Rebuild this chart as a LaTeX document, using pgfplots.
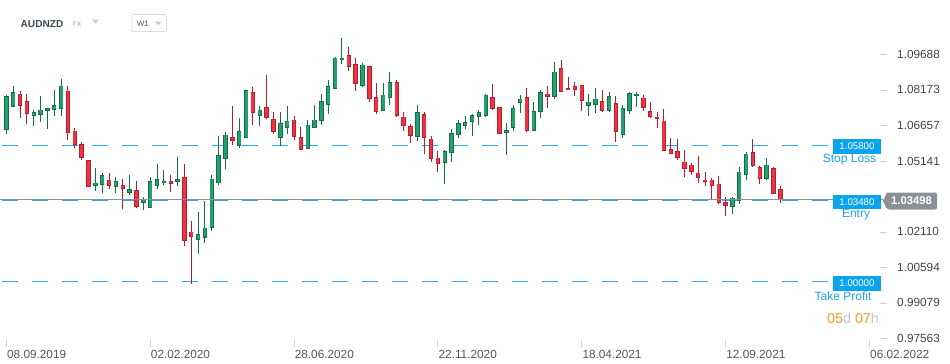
\documentclass[border=0pt]{standalone}
\usepackage{pgfplots}
\pgfplotsset{compat=1.18}
\usepackage{pgfplotstable}
\usepackage{fontspec}
\setmainfont{Liberation Sans}
\definecolor{gfill}{HTML}{23A06E}
\definecolor{gline}{HTML}{166E46}
\definecolor{rfill}{HTML}{F03241}
\definecolor{rline}{HTML}{B41E2D}
\definecolor{lblue}{HTML}{2FA9EE}
\definecolor{boxblue}{HTML}{0BA5EE}
\definecolor{txtblue}{HTML}{1DA1E6}
\definecolor{pgrey}{HTML}{8A9095}
\definecolor{axtext}{HTML}{444444}
\definecolor{datetext}{HTML}{555555}
\definecolor{tickgrey}{HTML}{D0D0D0}
\definecolor{orng}{HTML}{F7991F}
\definecolor{lgr}{HTML}{C4C4C4}
\definecolor{hdr}{HTML}{3D4852}
\definecolor{hdrlight}{HTML}{8FA0B0}
\definecolor{tri}{HTML}{C5CBD0}
\definecolor{boxline}{HTML}{DADDE0}

\pgfplotstableread{
x o h l c
0 1.0647 1.0794 1.0629 1.0790
1 1.0745 1.0836 1.0744 1.0809
4 1.0707 1.0730 1.0663 1.0721
5 1.0711 1.0790 1.0680 1.0733
6 1.0728 1.0742 1.0650 1.0741
7 1.0733 1.0819 1.0708 1.0751
8 1.0735 1.0862 1.0706 1.0836
13 1.0408 1.0482 1.0385 1.0421
14 1.0412 1.0461 1.0377 1.0452
16 1.0404 1.0444 1.0377 1.0429
18 1.0378 1.0452 1.0370 1.0395
20 1.0335 1.0361 1.0304 1.0353
21 1.0314 1.0444 1.0313 1.0429
22 1.0408 1.0499 1.0395 1.0438
23 1.0421 1.0474 1.0412 1.0429
25 1.0425 1.0529 1.0408 1.0435
28 1.0177 1.0294 1.0118 1.0203
29 1.0186 1.0341 1.0165 1.0229
30 1.0229 1.0452 1.0216 1.0439
31 1.0418 1.0619 1.0412 1.0540
32 1.0523 1.0636 1.0479 1.0626
34 1.0580 1.0696 1.0569 1.0640
35 1.0613 1.0819 1.0612 1.0818
37 1.0707 1.0747 1.0663 1.0733
40 1.0613 1.0725 1.0577 1.0677
41 1.0656 1.0747 1.0629 1.0686
44 1.0566 1.0687 1.0565 1.0669
45 1.0656 1.0751 1.0655 1.0690
46 1.0686 1.0798 1.0667 1.0771
47 1.0754 1.0858 1.0714 1.0835
48 1.0822 1.0956 1.0821 1.0955
49 1.0946 1.1041 1.0928 1.0955
52 1.0835 1.0933 1.0829 1.0925
55 1.0728 1.0845 1.0727 1.0797
56 1.0784 1.0892 1.0752 1.0852
60 1.0617 1.0755 1.0599 1.0724
64 1.0506 1.0562 1.0415 1.0557
65 1.0549 1.0651 1.0511 1.0634
66 1.0626 1.0691 1.0613 1.0677
67 1.0664 1.0708 1.0651 1.0681
68 1.0681 1.0715 1.0622 1.0711
69 1.0703 1.0730 1.0669 1.0724
70 1.0707 1.0798 1.0703 1.0797
73 1.0634 1.0674 1.0539 1.0647
74 1.0656 1.0755 1.0643 1.0741
75 1.0762 1.0794 1.0720 1.0780
77 1.0643 1.0764 1.0642 1.0728
78 1.0724 1.0815 1.0698 1.0809
80 1.0788 1.0935 1.0780 1.0895
85 1.0750 1.0798 1.0707 1.0767
86 1.0754 1.0824 1.0720 1.0780
88 1.0728 1.0807 1.0724 1.0792
90 1.0626 1.0754 1.0613 1.0741
91 1.0728 1.0809 1.0715 1.0805
92 1.0792 1.0809 1.0745 1.0801
106 1.0318 1.0358 1.0288 1.0357
107 1.0344 1.0489 1.0331 1.0468
108 1.0455 1.0553 1.0434 1.0545
111 1.0438 1.0528 1.0434 1.0498
}\greentab

\pgfplotstableread{
x o h l c
2 1.0802 1.0814 1.0697 1.0750
3 1.0768 1.0802 1.0671 1.0715
9 1.0814 1.0836 1.0603 1.0634
10 1.0644 1.0653 1.0569 1.0582
11 1.0587 1.0596 1.0518 1.0528
12 1.0516 1.0520 1.0403 1.0404
15 1.0434 1.0461 1.0395 1.0408
17 1.0412 1.0435 1.0308 1.0395
19 1.0391 1.0427 1.0314 1.0318
24 1.0427 1.0456 1.0382 1.0417
26 1.0444 1.0499 1.0152 1.0173
27 1.0212 1.0256 0.9990 1.0190
33 1.0617 1.0747 1.0582 1.0600
36 1.0809 1.0828 1.0667 1.0720
38 1.0745 1.0879 1.0693 1.0698
39 1.0694 1.0725 1.0629 1.0639
42 1.0690 1.0708 1.0604 1.0617
43 1.0617 1.0657 1.0561 1.0562
50 1.0967 1.0999 1.0898 1.0916
51 1.0929 1.0955 1.0812 1.0844
53 1.0920 1.0921 1.0765 1.0780
54 1.0788 1.0845 1.0714 1.0724
57 1.0852 1.0858 1.0701 1.0707
58 1.0703 1.0725 1.0641 1.0664
59 1.0664 1.0670 1.0590 1.0622
61 1.0715 1.0724 1.0545 1.0613
62 1.0609 1.0622 1.0511 1.0523
63 1.0528 1.0557 1.0468 1.0502
71 1.0788 1.0841 1.0733 1.0737
72 1.0745 1.0746 1.0629 1.0630
76 1.0788 1.0824 1.0639 1.0643
79 1.0801 1.0836 1.0741 1.0788
81 1.0912 1.0943 1.0808 1.0809
82 1.0826 1.0871 1.0817 1.0818
83 1.0835 1.0851 1.0792 1.0818
84 1.0839 1.0840 1.0728 1.0771
87 1.0771 1.0815 1.0724 1.0728
89 1.0762 1.0790 1.0596 1.0639
93 1.0784 1.0797 1.0728 1.0741
94 1.0728 1.0764 1.0698 1.0703
95 1.0703 1.0725 1.0656 1.0694
96 1.0686 1.0737 1.0556 1.0557
97 1.0566 1.0613 1.0544 1.0545
98 1.0557 1.0609 1.0519 1.0528
99 1.0511 1.0562 1.0446 1.0481
100 1.0498 1.0506 1.0455 1.0468
101 1.0464 1.0536 1.0421 1.0442
102 1.0434 1.0468 1.0408 1.0425
103 1.0434 1.0442 1.0351 1.0408
104 1.0417 1.0451 1.0331 1.0335
105 1.0338 1.0361 1.0280 1.0323
109 1.0553 1.0609 1.0489 1.0493
110 1.0489 1.0493 1.0417 1.0438
112 1.0485 1.0489 1.0373 1.0374
113 1.0395 1.0408 1.0335 1.0350
}\redtab

\pgfplotstableread{
y
1.0580
1.0348
1.0000
}\levels

\pgfplotsset{
  candle/.style 2 args={forget plot, draw=none, mark=none,
    error bars/.cd, y dir=plus, y explicit, error mark=none,
    error bar style={draw=#1, line width=#2}},
}

\begin{document}
\begin{tikzpicture}
\path[use as bounding box] (0,0) rectangle (950bp,-364bp);
\begin{axis}[
  at={(0bp,-340bp)}, anchor=south west,
  scale only axis, width=880bp, height=304bp,
  xmin=-0.9197, xmax=127.547,
  ymin=0.974952, ymax=1.104756,
  clip=false,
  axis line style={draw=none},
  xtick={0,21,42,63,84,105,126},
  xticklabels={08.09.2019,02.02.2020,28.06.2020,22.11.2020,18.04.2021,12.09.2021,06.02.2022},
  ytick={1.09688,1.08173,1.06657,1.05141,1.02110,1.00594,0.99079,0.97563},
  yticklabels={1.09688,1.08173,1.06657,1.05141,1.02110,1.00594,0.99079,0.97563},
  xtick pos=bottom, ytick pos=right, yticklabel pos=right,
  tick align=outside, major tick length=7bp,
  tick style={draw=tickgrey, line width=0.8bp},
  xticklabel style={anchor=base west, inner sep=0pt, xshift=0.6bp, yshift=-11.7bp,
     font=\fontsize{11.8bp}{13bp}\selectfont, text=datetext},
  yticklabel style={anchor=west, inner sep=0pt, xshift=10bp,
     font=\fontsize{11.8bp}{13bp}\selectfont, text=axtext},
]
% levels (stop loss, entry, take profit): dashed horizontal lines, under the candles
\addplot[forget plot, draw=none, mark=none,
  error bars/.cd, x dir=plus, x fixed=120.48, error mark=none,
  error bar style={draw=lblue, line width=1.6bp, dash pattern=on 15.3bp off 14.7bp}]
  table[x expr=-0.58, y=y] {\levels};
% wicks
\addplot[candle={gline}{1bp}]
  table[x=x, y=l, y error expr=\thisrow{h}-\thisrow{l}] {\greentab};
\addplot[candle={rline}{1bp}]
  table[x=x, y=l, y error expr=\thisrow{h}-\thisrow{l}] {\redtab};
% bodies outline
\addplot[candle={gline}{4.4bp}]
  table[x=x, y=o, y error expr=\thisrow{c}-\thisrow{o}] {\greentab};
\addplot[candle={rline}{4.4bp}]
  table[x=x, y=c, y error expr=\thisrow{o}-\thisrow{c}] {\redtab};
% bodies fill
\addplot[candle={gfill, shorten <=0.75bp, shorten >=0.75bp}{2.9bp}]
  table[x=x, y=o, y error expr=\thisrow{c}-\thisrow{o}] {\greentab};
\addplot[candle={rfill, shorten <=0.75bp, shorten >=0.75bp}{2.9bp}]
  table[x=x, y=c, y error expr=\thisrow{o}-\thisrow{c}] {\redtab};
% current price line, over the candles
\addplot[forget plot, draw=pgrey, mark=none, line width=1bp]
  coordinates {(-0.92,1.03498) (128.0,1.03498)};
\end{axis}
% header
\node[anchor=west, inner sep=0pt, font=\bfseries\fontsize{10.1bp}{12bp}\selectfont, text=hdr] at (20.5bp,-24bp) {AUDNZD};
\node[anchor=west, inner sep=0pt, font=\fontsize{6.5bp}{8bp}\selectfont, text=hdrlight] at (72.7bp,-24.5bp) {FX};
\fill[tri] (91.7bp,-19.5bp) -- (99.3bp,-19.5bp) -- (95.5bp,-23.5bp) -- cycle;
\draw[boxline, rounded corners=2bp, line width=0.8bp] (132bp,-14.5bp) rectangle (166.5bp,-31.5bp);
\node[anchor=west, inner sep=0pt, font=\fontsize{8bp}{10bp}\selectfont, text=datetext] at (136.7bp,-23.5bp) {W1};
\fill[tri] (155bp,-21.5bp) -- (161.7bp,-21.5bp) -- (158.3bp,-25bp) -- cycle;
% level tags
\fill[boxblue] (833bp,-139bp) rectangle (881bp,-153.5bp);
\node[inner sep=0pt, text=white, font=\fontsize{9.7bp}{11bp}\selectfont] at (857bp,-146.3bp) {1.05800};
\node[inner sep=0pt, text=txtblue, font=\fontsize{12bp}{14bp}\selectfont] at (849.5bp,-160bp) {Stop Loss};
\fill[boxblue] (833bp,-194.8bp) rectangle (881bp,-209.3bp);
\node[inner sep=0pt, text=white, font=\fontsize{9.7bp}{11bp}\selectfont] at (857bp,-202bp) {1.03480};
\node[inner sep=0pt, text=txtblue, font=\fontsize{12bp}{14bp}\selectfont] at (856bp,-215bp) {Entry};
\fill[boxblue] (833bp,-276bp) rectangle (881bp,-290.7bp);
\node[inner sep=0pt, text=white, font=\fontsize{9.7bp}{11bp}\selectfont] at (857bp,-283.4bp) {1.00000};
\node[inner sep=0pt, text=txtblue, font=\fontsize{12bp}{14bp}\selectfont] at (843bp,-296.7bp) {Take Profit};
% current price tag
\fill[pgrey, rounded corners=2bp] (887bp,-192.5bp) -- (937bp,-192.5bp) -- (937bp,-209.5bp) -- (887bp,-209.5bp) [sharp corners] -- (883bp,-201bp) -- cycle;
\node[inner sep=0pt, text=white, font=\bfseries\fontsize{11.3bp}{13bp}\selectfont] at (911.5bp,-201bp) {1.03498};
% countdown
\node[anchor=base west, inner sep=0pt, font=\fontsize{14.3bp}{16bp}\selectfont] at (827bp,-323.3bp) {\textcolor{orng}{05}\textcolor{lgr}{d} \textcolor{orng}{07}\textcolor{lgr}{h}};
\end{tikzpicture}
\end{document}
